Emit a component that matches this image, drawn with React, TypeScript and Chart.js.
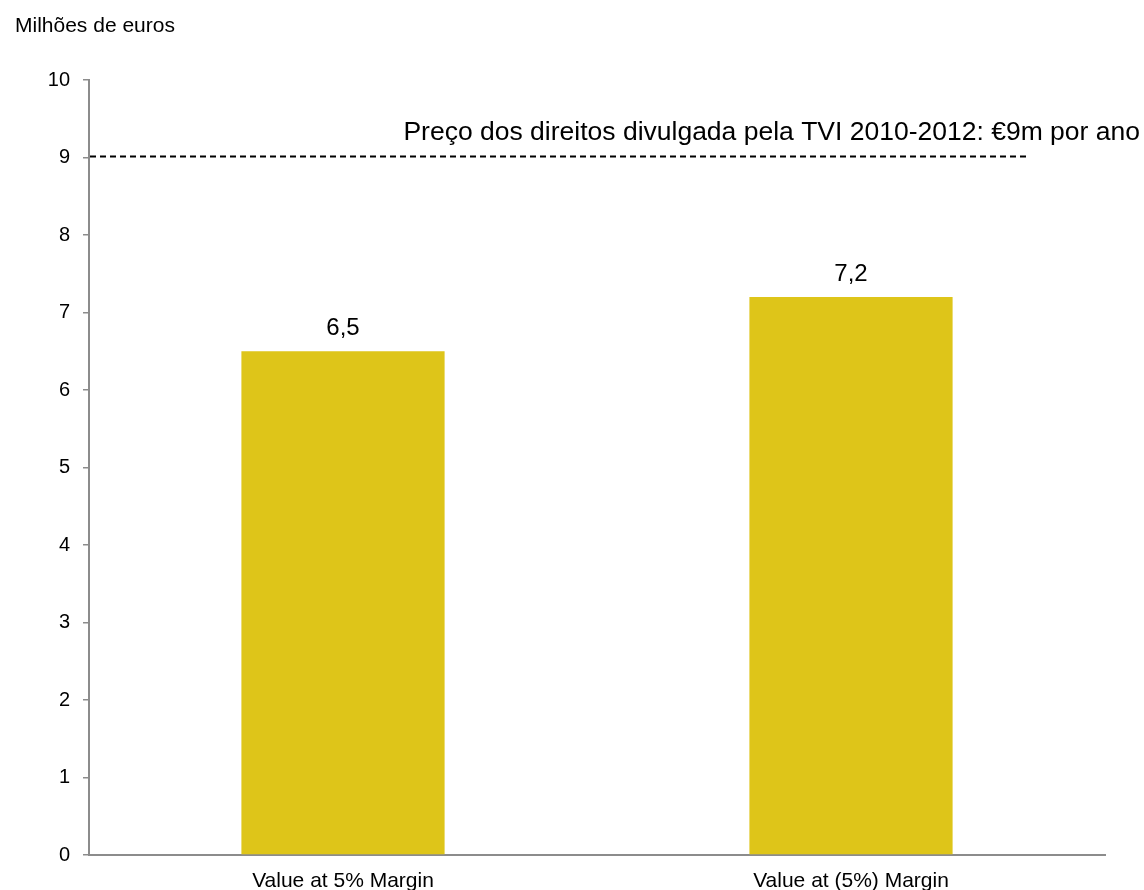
import React, { useEffect, useRef } from "react";
import { Chart, registerables } from "chart.js";

Chart.register(...registerables);

const categories = ["Value at 5% Margin", "Value at (5%) Margin"];
const values = [6.5, 7.2];
const valueLabels = ["6,5", "7,2"];
const yTicks = [0, 1, 2, 3, 4, 5, 6, 7, 8, 9, 10];
const referenceValue = 9;
const referenceText = "Preço dos direitos divulgada pela TVI 2010-2012: €9m por ano";
const unitTitle = "Milhões de euros";

const FONT = "'Liberation Sans', Arial, Helvetica, sans-serif";
const BAR_COLOR = "#DEC519";
const AXIS_COLOR = "#8c8c8c";

const overlayPlugin = {
  id: "overlay",
  afterDatasetsDraw(chart: any) {
    const { ctx, chartArea, scales } = chart;
    const y = scales.y;
    ctx.save();
    // reference dashed line
    const ry = y.getPixelForValue(referenceValue);
    const endX = chartArea.left + (chartArea.right - chartArea.left) * 0.926;
    ctx.strokeStyle = "#000";
    ctx.lineWidth = 2;
    ctx.setLineDash([6, 4]);
    ctx.beginPath();
    ctx.moveTo(chartArea.left + 1, ry - 1);
    ctx.lineTo(endX, ry - 1);
    ctx.stroke();
    ctx.setLineDash([]);
    // reference text
    ctx.fillStyle = "#000";
    ctx.font = `26.5px ${FONT}`;
    ctx.textAlign = "right";
    ctx.textBaseline = "alphabetic";
    ctx.fillText(referenceText, 1140, ry - 18);
    // value labels
    const meta = chart.getDatasetMeta(0);
    ctx.font = `24px ${FONT}`;
    ctx.textAlign = "center";
    meta.data.forEach((bar: any, i: number) => {
      ctx.fillText(valueLabels[i], bar.x, bar.y - 16);
    });
    // unit title
    ctx.font = `21px ${FONT}`;
    ctx.textAlign = "left";
    ctx.fillText(unitTitle, 15, 32);
    ctx.restore();
  },
};

export default function App() {
  const ref = useRef<HTMLCanvasElement | null>(null);
  useEffect(() => {
    if (!ref.current) return;
    const chart = new Chart(ref.current, {
      type: "bar",
      data: {
        labels: categories,
        datasets: [
          {
            data: values,
            backgroundColor: BAR_COLOR,
            borderWidth: 0,
            barPercentage: 0.4,
            categoryPercentage: 1,
          },
        ],
      },
      options: {
        animation: false,
        responsive: false,
        layout: { padding: { left: 0, right: 39, top: 80, bottom: 0 } },
        plugins: { legend: { display: false }, tooltip: { enabled: false } },
        scales: {
          x: {
            grid: { display: false, drawTicks: false },
            border: { display: true, color: AXIS_COLOR, width: 2 },
            ticks: { color: "#000", font: { family: FONT, size: 21 }, padding: 14 },
            afterFit: (s: any) => {
              s.height = 35;
            },
          },
          y: {
            min: 0,
            max: 10,
            afterBuildTicks: (s: any) => {
              s.ticks = yTicks.map((v) => ({ value: v }));
            },
            grid: {
              drawOnChartArea: false,
              drawTicks: true,
              tickLength: 6,
              color: AXIS_COLOR,
              lineWidth: 1.5,
            },
            border: { display: true, color: AXIS_COLOR, width: 2 },
            ticks: { color: "#000", font: { family: FONT, size: 20 }, padding: 13 },
            afterFit: (s: any) => {
              s.width = 89;
            },
          },
        },
      },
      plugins: [overlayPlugin],
    });
    return () => chart.destroy();
  }, []);
  return (
    <div style={{ position: "fixed", left: 0, top: 0, width: 1144, height: 890, background: "#fff" }}>
      <canvas ref={ref} width={1144} height={890} style={{ display: "block", width: 1144, height: 890 }} />
    </div>
  );
}
